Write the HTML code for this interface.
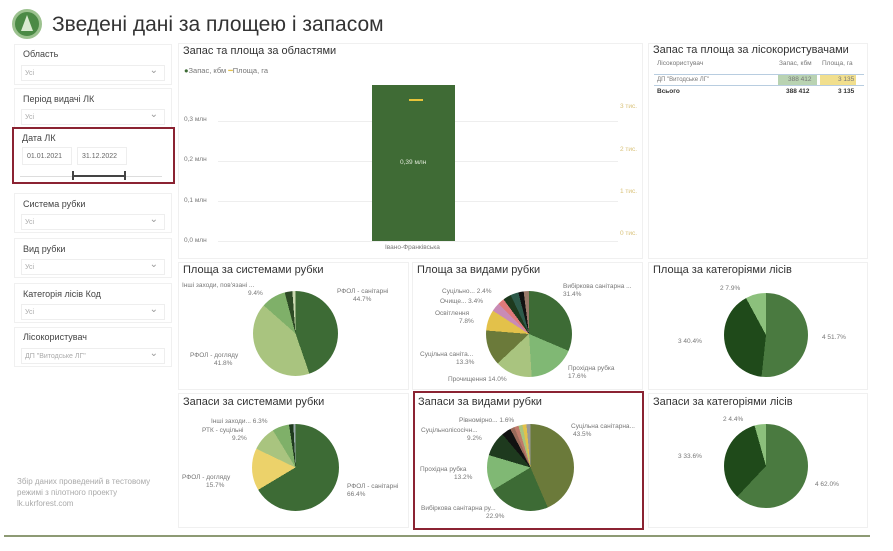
<!DOCTYPE html>
<html><head><meta charset="utf-8"><style>
*{margin:0;padding:0;box-sizing:border-box}
body{width:893px;height:551px;background:#fff;font-family:"Liberation Sans",sans-serif;position:relative;overflow:hidden;color:#333}
.a{position:absolute;white-space:nowrap}
.panel{position:absolute;border:1px solid #f0f0f0;background:#fff}
.ft{font-size:9px;color:#444}
.fv{position:absolute;left:6px;right:6px;top:20px;height:16px;border:1px solid #eee;font-size:7px;color:#aaa;padding:4px 3px}
.fv:after{content:"⌄";position:absolute;right:6px;top:-1px;font-size:10px;color:#999}
.t{font-size:11px;color:#333}
.l{font-size:6.5px;color:#777;line-height:8px}
.pie{position:absolute;border-radius:50%}
.g{position:absolute;height:1px;background:#eee}
</style></head><body>
<div class="a" style="left:12px;top:9px;width:30px;height:30px;border-radius:50%;background:#4b8a45;border:3px solid #9cc28f"></div>
<div class="a" style="left:21px;top:15px;width:0;height:0;border-left:6px solid transparent;border-right:6px solid transparent;border-bottom:16px solid #d9ead0"></div>
<div class="a" style="left:52px;top:13px;font-size:21px;color:#333">Зведені дані за площею і запасом</div>

<div class="panel" style="left:14px;top:44px;width:158px;height:41px"><div class="a ft" style="left:8px;top:4px">Область</div><div class="fv">Усі</div></div>
<div class="panel" style="left:14px;top:88px;width:158px;height:40px"><div class="a ft" style="left:8px;top:5px">Період видачі ЛК</div><div class="fv">Усі</div></div>
<div class="a" style="left:12px;top:127px;width:163px;height:57px;border:2px solid #8b2332"></div>
<div class="a ft" style="left:22px;top:133px">Дата ЛК</div>
<div class="a" style="left:22px;top:147px;width:50px;height:18px;border:1px solid #eee;font-size:7px;color:#666;padding:5px 4px">01.01.2021</div>
<div class="a" style="left:77px;top:147px;width:50px;height:18px;border:1px solid #eee;font-size:7px;color:#666;padding:5px 4px">31.12.2022</div>
<div class="a" style="left:20px;top:176px;width:142px;height:1px;background:#ddd"></div>
<div class="a" style="left:73px;top:175px;width:53px;height:2px;background:#444"></div>
<div class="a" style="left:72px;top:171px;width:2px;height:9px;background:#444"></div>
<div class="a" style="left:124px;top:171px;width:2px;height:9px;background:#444"></div>
<div class="panel" style="left:14px;top:193px;width:158px;height:40px"><div class="a ft" style="left:8px;top:5px">Система рубки</div><div class="fv">Усі</div></div>
<div class="panel" style="left:14px;top:238px;width:158px;height:40px"><div class="a ft" style="left:8px;top:5px">Вид рубки</div><div class="fv">Усі</div></div>
<div class="panel" style="left:14px;top:283px;width:158px;height:40px"><div class="a ft" style="left:8px;top:5px">Категорія лісів Код</div><div class="fv">Усі</div></div>
<div class="panel" style="left:14px;top:327px;width:158px;height:40px"><div class="a ft" style="left:8px;top:4px">Лісокористувач</div><div class="fv">ДП "Витодське ЛГ"</div></div>
<div class="a" style="left:17px;top:476px;font-size:8px;color:#aaa;line-height:11px">Збір даних проведений в тестовому<br>режимі з пілотного проекту<br>lk.ukrforest.com</div>

<!-- bar chart -->
<div class="panel" style="left:178px;top:43px;width:465px;height:216px"></div>
<div class="a t" style="left:183px;top:45px">Запас та площа за областями</div>
<div class="a" style="left:184px;top:66px;font-size:7.5px;color:#777"><span style="color:#3d6b35">●</span>Запас, кбм <span style="color:#e3c14a">━</span>Площа, га</div>
<div class="g" style="left:218px;top:121px;width:400px"></div>
<div class="g" style="left:218px;top:161px;width:400px"></div>
<div class="g" style="left:218px;top:201px;width:400px"></div>
<div class="g" style="left:218px;top:241px;width:400px"></div>
<div class="a l" style="left:184px;top:116px">0,3 млн</div>
<div class="a l" style="left:184px;top:156px">0,2 млн</div>
<div class="a l" style="left:184px;top:197px">0,1 млн</div>
<div class="a l" style="left:184px;top:237px">0,0 млн</div>
<div class="a l" style="left:620px;top:103px;color:#d9c27a">3 тис.</div>
<div class="a l" style="left:620px;top:146px;color:#d9c27a">2 тис.</div>
<div class="a l" style="left:620px;top:188px;color:#d9c27a">1 тис.</div>
<div class="a l" style="left:620px;top:230px;color:#d9c27a">0 тис.</div>
<div class="a" style="left:372px;top:85px;width:83px;height:156px;background:#3f6b35"></div>
<div class="a" style="left:409px;top:99px;width:14px;height:2px;background:#e8c43a"></div>
<div class="a" style="left:400px;top:159px;font-size:6.5px;color:#dfe8d8">0,39 млн</div>
<div class="a l" style="left:385px;top:244px">Івано-Франківська</div>

<!-- table -->
<div class="panel" style="left:648px;top:43px;width:220px;height:216px"></div>
<div class="a t" style="left:653px;top:44px">Запас та площа за лісокористувачами</div>
<div class="a l" style="left:657px;top:60px">Лісокористувач</div>
<div class="a l" style="left:779px;top:60px">Запас, кбм</div>
<div class="a l" style="left:822px;top:60px">Площа, га</div>
<div class="a" style="left:654px;top:74px;width:210px;height:1px;background:#b8cde0"></div>
<div class="a" style="left:654px;top:85px;width:210px;height:1px;background:#b8cde0"></div>
<div class="a" style="left:778px;top:75px;width:39px;height:10px;background:#b9d3b2"></div>
<div class="a" style="left:820px;top:75px;width:36px;height:10px;background:#f1df8e"></div>
<div class="a l" style="left:657px;top:76px;font-size:6px">ДП "Витодське ЛГ"</div>
<div class="a l" style="left:788px;top:76px">388 412</div>
<div class="a l" style="left:838px;top:76px">3 135</div>
<div class="a l" style="left:657px;top:88px;font-weight:bold;color:#333">Всього</div>
<div class="a l" style="left:786px;top:88px;font-weight:bold;color:#333">388 412</div>
<div class="a l" style="left:838px;top:88px;font-weight:bold;color:#333">3 135</div>

<!-- pie row 1 -->
<div class="panel" style="left:178px;top:262px;width:231px;height:128px"></div>
<div class="panel" style="left:412px;top:262px;width:231px;height:128px"></div>
<div class="panel" style="left:648px;top:262px;width:220px;height:128px"></div>
<div class="a t" style="left:183px;top:264px">Площа за системами рубки</div>
<div class="a t" style="left:417px;top:264px">Площа за видами рубки</div>
<div class="a t" style="left:653px;top:264px">Площа за категоріями лісів</div>

<div class="pie" style="left:253px;top:291px;width:85px;height:85px;background:conic-gradient(#3d6b35 0 44.7%,#a9c47f 0 86.5%,#7fb069 0 95.9%,#2d4a25 0 98.8%,#c9d8b0 0 100%)"></div>
<div class="a l" style="left:182px;top:282px">Інші заходи, пов'язані ...<br><span style="padding-left:66px">9.4%</span></div>
<div class="a l" style="left:337px;top:288px">РФОЛ - санітарні<br><span style="padding-left:16px">44.7%</span></div>
<div class="a l" style="left:190px;top:352px">РФОЛ - догляду<br><span style="padding-left:24px">41.8%</span></div>

<div class="pie" style="left:486px;top:291px;width:86px;height:86px;background:conic-gradient(#3d6b35 0 31.4%,#80b874 0 49%,#a9c47f 0 63%,#6b7a3a 0 76.3%,#e3c14a 0 84.1%,#c98bb5 0 87.5%,#e07a7a 0 89.9%,#1e3a1e 0 93%,#2d5a4a 0 96%,#111 0 98%,#9a7a6a 0 100%)"></div>
<div class="a l" style="left:563px;top:283px">Вибіркова санітарна ...<br>31.4%</div>
<div class="a l" style="left:442px;top:288px">Суцільно... 2.4%</div>
<div class="a l" style="left:440px;top:298px">Очище... 3.4%</div>
<div class="a l" style="left:435px;top:310px">Освітлення<br><span style="padding-left:24px">7.8%</span></div>
<div class="a l" style="left:420px;top:351px">Суцільна саніта...<br><span style="padding-left:36px">13.3%</span></div>
<div class="a l" style="left:448px;top:376px">Прочищення 14.0%</div>
<div class="a l" style="left:568px;top:365px">Прохідна рубка<br>17.6%</div>

<div class="pie" style="left:724px;top:293px;width:84px;height:84px;background:conic-gradient(#4a7a40 0 51.7%,#1f4a1a 0 92.1%,#8cc07c 0 100%)"></div>
<div class="a l" style="left:720px;top:285px">2 7.9%</div>
<div class="a l" style="left:678px;top:338px">3 40.4%</div>
<div class="a l" style="left:822px;top:334px">4 51.7%</div>

<!-- pie row 2 -->
<div class="panel" style="left:178px;top:393px;width:231px;height:135px"></div>
<div class="panel" style="left:648px;top:393px;width:220px;height:135px"></div>
<div class="a" style="left:413px;top:391px;width:231px;height:139px;border:2px solid #8b2332"></div>
<div class="a t" style="left:183px;top:396px">Запаси за системами рубки</div>
<div class="a t" style="left:418px;top:396px">Запаси за видами рубки</div>
<div class="a t" style="left:653px;top:396px">Запаси за категоріями лісів</div>

<div class="pie" style="left:252px;top:424px;width:87px;height:87px;background:conic-gradient(#3d6b35 0 66.4%,#ecd26a 0 82.1%,#a9c47f 0 91.3%,#7fb069 0 97.6%,#1e3a1e 0 99.2%,#9aa 0 100%)"></div>
<div class="a l" style="left:211px;top:418px">Інші заходи... 6.3%</div>
<div class="a l" style="left:202px;top:427px">РТК - суцільні<br><span style="padding-left:30px">9.2%</span></div>
<div class="a l" style="left:182px;top:474px">РФОЛ - догляду<br><span style="padding-left:24px">15.7%</span></div>
<div class="a l" style="left:347px;top:483px">РФОЛ - санітарні<br>66.4%</div>

<div class="pie" style="left:487px;top:424px;width:87px;height:87px;background:conic-gradient(#6b7a3a 0 43.5%,#3d6b35 0 66.4%,#80b874 0 79.6%,#1e3a1e 0 88.8%,#111 0 92.3%,#9a6a5a 0 93.9%,#c07a6a 0 95.5%,#a9c47f 0 97%,#e3c14a 0 98.5%,#999 0 100%)"></div>
<div class="a l" style="left:459px;top:417px">Рівномірно... 1.6%</div>
<div class="a l" style="left:421px;top:427px">Суцільнолісосічн...<br><span style="padding-left:46px">9.2%</span></div>
<div class="a l" style="left:420px;top:466px">Прохідна рубка<br><span style="padding-left:34px">13.2%</span></div>
<div class="a l" style="left:421px;top:505px">Вибіркова санітарна ру...<br><span style="padding-left:65px">22.9%</span></div>
<div class="a l" style="left:571px;top:423px">Суцільна санітарна...<br><span style="padding-left:2px">43.5%</span></div>

<div class="pie" style="left:724px;top:424px;width:84px;height:84px;background:conic-gradient(#4a7a40 0 62%,#1f4a1a 0 95.6%,#8cc07c 0 100%)"></div>
<div class="a l" style="left:723px;top:416px">2 4.4%</div>
<div class="a l" style="left:678px;top:453px">3 33.6%</div>
<div class="a l" style="left:815px;top:481px">4 62.0%</div>

<div class="a" style="left:4px;top:535px;width:866px;height:2px;background:#8d9a74"></div>
</body></html>
